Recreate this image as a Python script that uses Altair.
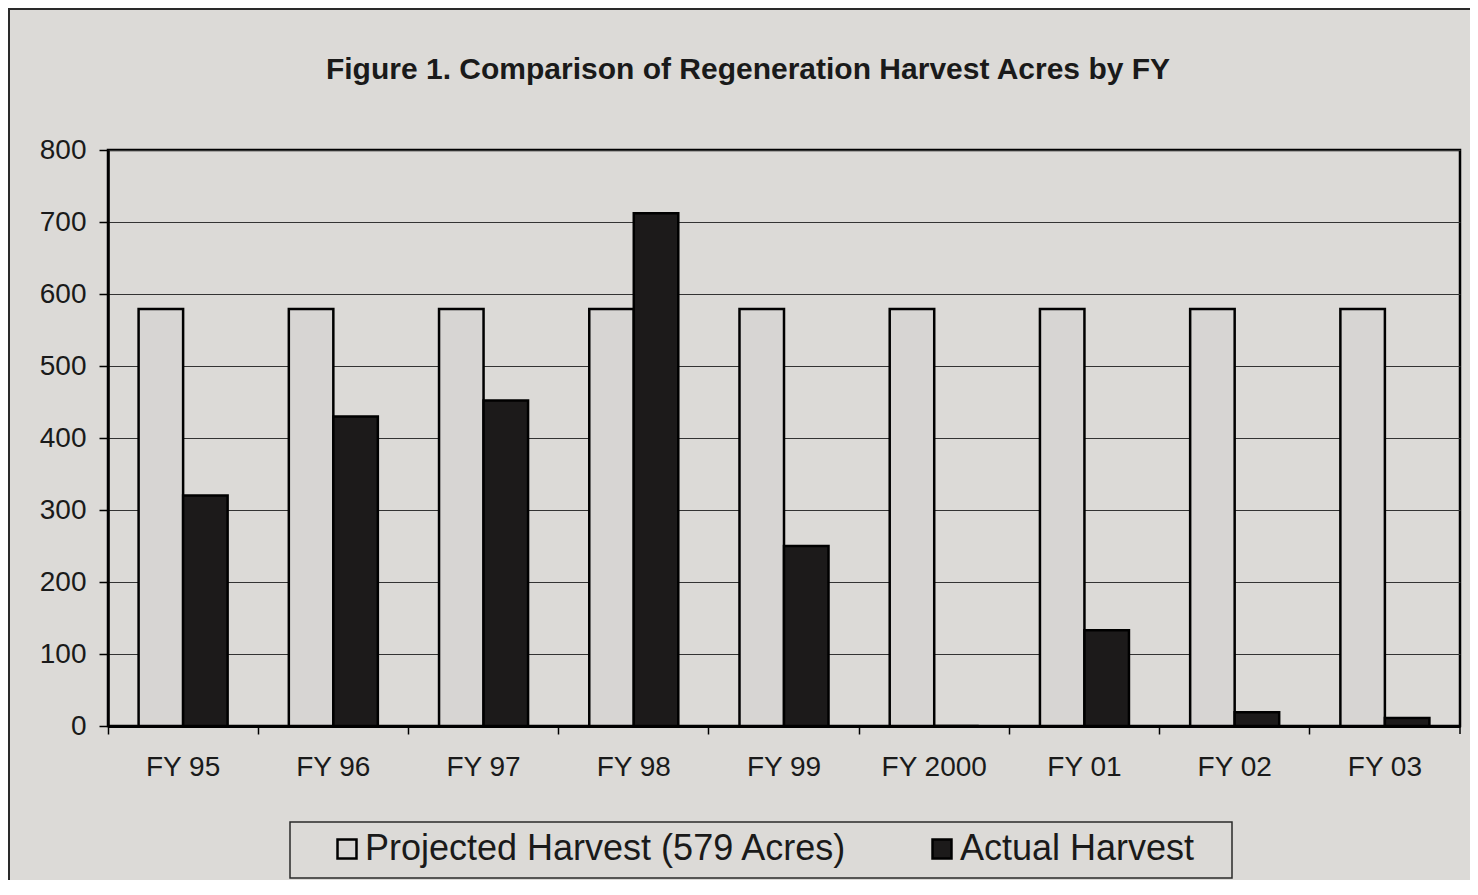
import altair as alt
import pandas as pd

years = ["FY 95", "FY 96", "FY 97", "FY 98", "FY 99", "FY 2000", "FY 01", "FY 02", "FY 03"]
projected = [579, 579, 579, 579, 579, 579, 579, 579, 579]
actual = [320, 430, 452, 712, 250, 0, 133, 19, 11]
series_names = ["Projected Harvest (579 Acres)", "Actual Harvest"]
y_ticks = [0, 100, 200, 300, 400, 500, 600, 700, 800]
title_text = "Figure 1. Comparison of Regeneration Harvest Acres by FY"

rows = []
for i, yr in enumerate(years):
    rows.append({"year": yr, "series": series_names[0], "acres": projected[i]})
    rows.append({"year": yr, "series": series_names[1], "acres": actual[i]})
df = pd.DataFrame(rows)

FONT = "Liberation Sans"
W, H = 1352, 576

bars = alt.Chart(df).mark_bar(stroke="black", strokeWidth=2.5, strokeJoin="miter").encode(
    x=alt.X("year:N", sort=years,
            scale=alt.Scale(paddingInner=0, paddingOuter=0),
            axis=alt.Axis(title=None, labelAngle=0, bandPosition=0, labelFontSize=28,
                          labelFont=FONT, labelColor="#1a1a1a", labelPadding=19,
                          tickSize=8, tickColor="black", tickWidth=1.5,
                          domainColor="black", domainWidth=3, grid=False)),
    xOffset=alt.XOffset("series:N", sort=series_names,
                        scale=alt.Scale(paddingInner=0, paddingOuter=0.6875)),
    y=alt.Y("acres:Q", scale=alt.Scale(domain=[0, 800], nice=False),
            axis=alt.Axis(title=None, values=y_ticks, labelFontSize=28, labelFont=FONT,
                          labelColor="#1a1a1a", labelPadding=13, tickSize=9,
                          tickColor="black", tickWidth=1.5, domainColor="black",
                          domainWidth=2.5, grid=True, gridColor="#333333",
                          gridWidth=1.2, gridOpacity=1)),
    color=alt.Color("series:N", sort=series_names,
                    scale=alt.Scale(domain=series_names, range=["#d7d5d3", "#1c1a1a"]),
                    legend=alt.Legend(orient="none", legendX=221, legendY=681,
                                      direction="horizontal", title=None,
                                      symbolType="square", symbolSize=360,
                                      symbolStrokeWidth=2.5, symbolStrokeColor="black",
                                      symbolOpacity=1,
                                      labelFontSize=36, labelFont=FONT, labelColor="#1a1a1a",
                                      labelOffset=0, columnPadding=76, labelLimit=900,
                                      padding=0)),
)

one = pd.DataFrame({"k": [0]})

title_mark = alt.Chart(one).mark_text(
    text=title_text, font=FONT, fontSize=30, fontWeight="bold", color="#1a1a1a",
    align="center", baseline="alphabetic"
).encode(x=alt.value(640), y=alt.value(-71))

legend_frame = alt.Chart(one).mark_rect(fill="transparent", stroke="#2a2a2a", strokeWidth=1.5).encode(
    x=alt.value(182), x2=alt.value(1124), y=alt.value(672), y2=alt.value(728)
)
right_tick = alt.Chart(one).mark_rule(color="black", strokeWidth=1.5).encode(
    x=alt.value(W), y=alt.value(H), y2=alt.value(H + 8)
)
outer_left = alt.Chart(one).mark_rule(color="#2a2a2a", strokeWidth=2).encode(
    x=alt.value(-99), y=alt.value(-142), y2=alt.value(H + 154)
)
outer_top = alt.Chart(one).mark_rule(color="#2a2a2a", strokeWidth=2).encode(
    x=alt.value(-100), x2=alt.value(W + 10), y=alt.value(-141)
)

chart = alt.layer(bars, title_mark, legend_frame, right_tick, outer_left, outer_top).properties(
    width=W, height=H,
    padding={"left": 100, "top": 142, "right": 10, "bottom": 154},
    autosize=alt.AutoSizeParams(type="none"),
).configure(background="#dcdad7").configure_view(stroke="black", strokeWidth=2.5)

chart.save("out.html", embed_options={"renderer": "svg", "actions": False})
